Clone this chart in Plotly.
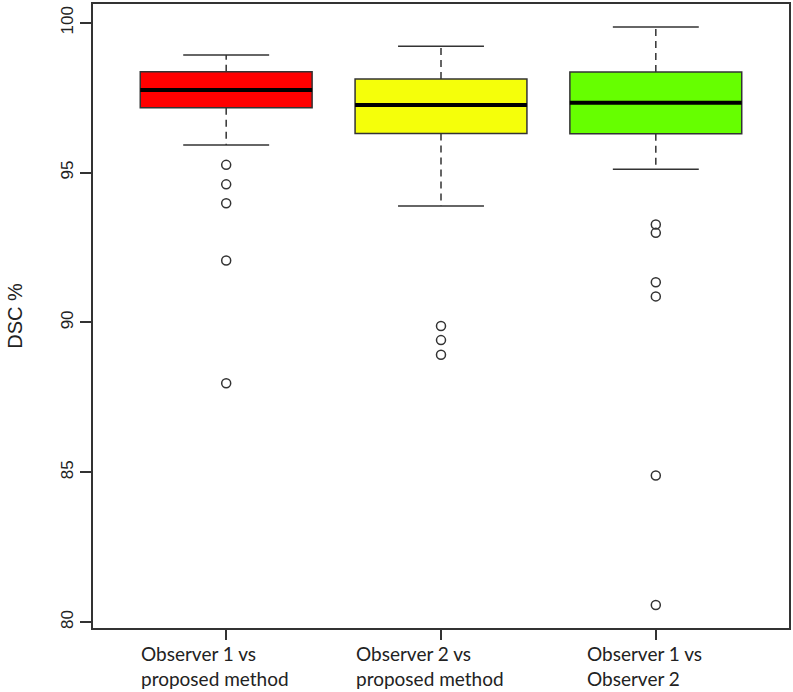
import plotly.graph_objects as go

# groups along the x axis (box positions 1, 2, 3)
labels = ['Observer 1 vs<br>proposed method',
          'Observer 2 vs<br>proposed method',
          'Observer 1 vs<br>Observer 2']
positions = [1, 2, 3]
colors = ['#FF0000', '#F5FF0A', '#66FF00']

# box statistics (DSC %)
whisker_low = [95.92, 93.89, 95.11]
q1 = [97.17, 96.31, 96.30]
median = [97.76, 97.26, 97.33]
q3 = [98.37, 98.13, 98.36]
whisker_high = [98.93, 99.22, 99.86]

# outliers per group
outliers = [
    [95.26, 94.61, 93.98, 92.07, 87.97],
    [89.88, 89.41, 88.92],
    [93.27, 92.99, 91.34, 90.87, 84.89, 80.57],
]

box_w = 0.8      # R boxwex
cap_w = 0.4      # staple width
edge = '#333333'

fig = go.Figure()

for i, pos in enumerate(positions):
    # the box itself (whiskers drawn separately so they can be dashed)
    fig.add_trace(go.Box(
        x=[pos], q1=[q1[i]], median=[median[i]], q3=[q3[i]],
        lowerfence=[q1[i]], upperfence=[q3[i]],
        width=box_w, fillcolor=colors[i],
        line=dict(color=edge, width=1.5),
        boxpoints=False, hoverinfo='skip',
    ))
    # dashed whiskers
    fig.add_trace(go.Scatter(
        x=[pos, pos, None, pos, pos],
        y=[q3[i], whisker_high[i], None, q1[i], whisker_low[i]],
        mode='lines', line=dict(color=edge, width=1.5, dash='7px,5px'),
        hoverinfo='skip',
    ))
    # whisker caps
    fig.add_trace(go.Scatter(
        x=[pos - cap_w / 2, pos + cap_w / 2, None, pos - cap_w / 2, pos + cap_w / 2],
        y=[whisker_high[i], whisker_high[i], None, whisker_low[i], whisker_low[i]],
        mode='lines', line=dict(color=edge, width=1.5),
        hoverinfo='skip',
    ))
    # thick median bar
    fig.add_trace(go.Scatter(
        x=[pos - box_w / 2, pos + box_w / 2],
        y=[median[i], median[i]],
        mode='lines', line=dict(color='black', width=4),
        hoverinfo='skip',
    ))
    # outliers as open circles
    fig.add_trace(go.Scatter(
        x=[pos] * len(outliers[i]), y=outliers[i],
        mode='markers',
        marker=dict(symbol='circle-open', size=9, color=edge, line=dict(width=1.5)),
    ))

    # left-aligned two-line category label under each tick
    fig.add_annotation(
        x=pos, y=0, xref='x', yref='paper',
        text=labels[i], showarrow=False, align='left',
        xanchor='center', yanchor='top', xshift=-11, yshift=-12,
        font=dict(family='Lato', size=19, color='#222222'),
    )

fig.update_layout(
    width=793, height=692,
    margin=dict(l=93, r=2, t=3, b=64),
    paper_bgcolor='white', plot_bgcolor='white',
    showlegend=False,
    font=dict(family='Liberation Sans', size=17, color='#222222'),
)
fig.update_xaxes(
    range=[0.38, 3.62], tickvals=positions, showticklabels=False,
    ticks='outside', ticklen=10, tickcolor=edge, tickwidth=1.5,
    showgrid=False, zeroline=False,
    showline=True, mirror=True, linecolor=edge, linewidth=1.5,
)
fig.update_yaxes(
    range=[79.8, 100.63], tickvals=[80, 85, 90, 95, 100],
    tickangle=-90, ticks='outside', ticklen=11, tickcolor=edge, tickwidth=1.5,
    showgrid=False, zeroline=False,
    showline=True, mirror=True, linecolor=edge, linewidth=1.5,
    title=dict(text='DSC %', standoff=30),
)

# drop the page's default body margin so the figure sits at the window origin
fig.write_html('out.html', config={'displayModeBar': False},
               post_script="document.body.style.margin='0';")
